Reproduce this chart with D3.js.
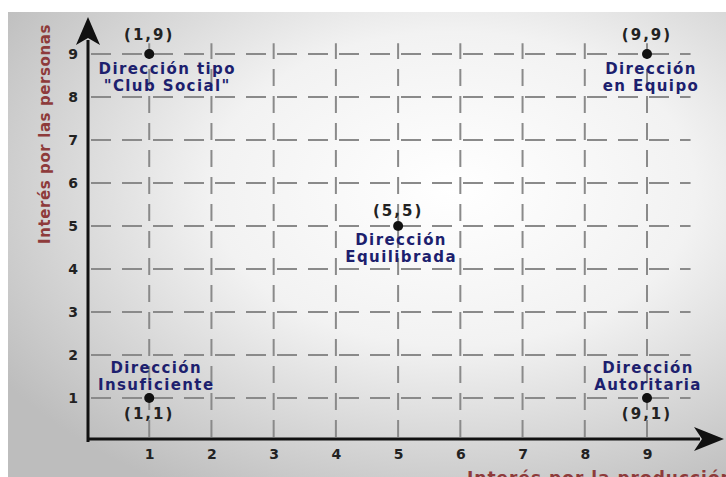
<!DOCTYPE html>
<html>
<head>
<meta charset="utf-8">
<script src="https://cdn.jsdelivr.net/npm/d3@7"></script>
<style>
  body { margin: 0; background: white; }
</style>
</head>
<body>
<div id="vis"></div>
<script>
var width = 726
var height = 477

// grid values
var ticks = [1, 2, 3, 4, 5, 6, 7, 8, 9]
// the five management styles (production, people)
var styleX = [1, 9, 5, 1, 9]
var styleY = [9, 9, 5, 1, 1]
var coordLabels = ["(1,9)", "(9,9)", "(5,5)", "(1,1)", "(9,1)"]
var styleNames = [
  ["Dirección tipo", "\"Club Social\""],
  ["Dirección", "en Equipo"],
  ["Dirección", "Equilibrada"],
  ["Dirección", "Insuficiente"],
  ["Dirección", "Autoritaria"]
]
// offsets of the texts from the dot (coordinate label, name block)
var coordDy = [-14, -14, -10, 21, 21]
var nameDy = [20, 20, 19, -25, -25]
var nameDx = [18, 4, 3, 7, 1]

var svg = d3.select("#vis")
  .append("svg")
  .attr("width", width)
  .attr("height", height)
  .style("display", "block")

var defs = svg.append("defs")
var grad = defs.append("radialGradient")
  .attr("id", "bg")
  .attr("cx", "62%").attr("cy", "38%").attr("r", "75%")
grad.append("stop").attr("offset", "0%").attr("stop-color", "#ffffff")
grad.append("stop").attr("offset", "45%").attr("stop-color", "#f2f2f2")
grad.append("stop").attr("offset", "100%").attr("stop-color", "#bdbdbd")

svg.append("rect")
  .attr("x", 8).attr("y", 12)
  .attr("width", width - 8).attr("height", height - 12)
  .attr("fill", "url(#bg)")

var x = d3.scaleLinear().domain([0, 9]).range([87, 647])
var y = d3.scaleLinear().domain([0, 9]).range([441, 54])

// dashed grid
var grid = svg.append("g")
grid.selectAll(".hline")
  .data(ticks)
  .enter().append("line")
  .attr("x1", x(0)).attr("x2", x(9.7))
  .attr("y1", d => y(d)).attr("y2", d => y(d))
  .attr("stroke", "#8a8a8a")
  .attr("stroke-width", 2)
  .attr("stroke-dasharray", "20,11")
  .attr("stroke-dashoffset", -4)

grid.selectAll(".vline")
  .data(ticks)
  .enter().append("line")
  .attr("x1", d => x(d)).attr("x2", d => x(d))
  .attr("y1", y(0)).attr("y2", y(9.25))
  .attr("stroke", "#8a8a8a")
  .attr("stroke-width", 2)
  .attr("stroke-dasharray", "17,10")
  .attr("stroke-dashoffset", -4)

// axes (labels only)
svg.append("g")
  .attr("transform", `translate(${x(0)},0)`)
  .call(d3.axisLeft(y).tickValues(ticks).tickSize(0).tickPadding(9))
svg.append("g")
  .attr("transform", `translate(0,${y(0)})`)
  .call(d3.axisBottom(x).tickValues(ticks).tickSize(0).tickPadding(8))

svg.selectAll(".domain").remove()
svg.selectAll(".tick text")
  .style("font-family", "DejaVu Sans")
  .style("font-weight", "bold")
  .style("font-size", "14px")
  .attr("fill", "#222")

// axis lines with arrows
svg.append("line")
  .attr("x1", x(0) + 1).attr("x2", x(0) + 1)
  .attr("y1", y(0) + 1).attr("y2", 40)
  .attr("stroke", "#111").attr("stroke-width", 3)
svg.append("line")
  .attr("x1", x(0)).attr("x2", 700)
  .attr("y1", y(0) - 2).attr("y2", y(0) - 2)
  .attr("stroke", "#111").attr("stroke-width", 3)

svg.append("path")
  .attr("d", `M${x(0) + 1},17 L${x(0) + 13},45 L${x(0) + 1},38 L${x(0) - 11},45 Z`)
  .attr("fill", "#111")
svg.append("path")
  .attr("d", `M724,${y(0) - 2} L694,${y(0) - 14} L702,${y(0) - 2} L694,${y(0) + 10} Z`)
  .attr("fill", "#111")

// axis titles
svg.append("text")
  .attr("transform", `translate(50,134) rotate(-90)`)
  .attr("text-anchor", "middle")
  .style("font-family", "DejaVu Sans")
  .style("font-weight", "bold")
  .style("font-size", "15px")
  .style("letter-spacing", "0.6px")
  .attr("fill", "#8e3b3b")
  .text("Interés por las personas")

// the reference shows this title cut by the bottom edge
svg.append("text")
  .attr("x", 467).attr("y", 484)
  .style("font-family", "DejaVu Sans")
  .style("font-weight", "bold")
  .style("font-size", "17px")
  .style("letter-spacing", "1px")
  .attr("fill", "#8e3b3b")
  .text("Interés por la producción")

// points and labels
var idx = d3.range(styleX.length)
var pts = svg.append("g").selectAll("g")
  .data(idx)
  .enter().append("g")
  .attr("transform", i => `translate(${x(styleX[i])},${y(styleY[i])})`)

pts.append("circle")
  .attr("r", 5)
  .attr("fill", "#111")

pts.append("text")
  .attr("text-anchor", "middle")
  .attr("y", i => coordDy[i])
  .style("font-family", "DejaVu Sans")
  .style("font-weight", "bold")
  .style("font-size", "15px")
  .style("letter-spacing", "2px")
  .attr("fill", "#222")
  .text(i => coordLabels[i])

pts.each(function(i) {
  var g = d3.select(this)
  g.selectAll(".nm")
    .data(styleNames[i])
    .enter().append("text")
    .attr("text-anchor", "middle")
    .attr("x", nameDx[i])
    .attr("y", (d, k) => nameDy[i] + k * 17)
    .style("font-family", "DejaVu Sans")
    .style("font-weight", "bold")
    .style("font-size", "15px")
    .style("letter-spacing", "1.4px")
    .attr("fill", "#1d1f6e")
    .text(d => d)
})
</script>
</body>
</html>
